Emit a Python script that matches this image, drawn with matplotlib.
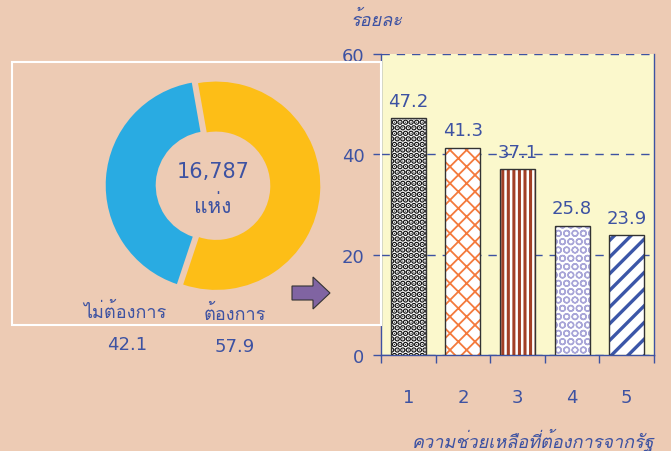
import matplotlib
matplotlib.use('Agg')
import matplotlib.pyplot as plt
from matplotlib import font_manager as fm
from matplotlib.ft2font import FT2Font
from matplotlib.patches import Rectangle, Polygon

# data
donut_labels = ['ไม่ต้องการ', 'ต้องการ']
donut_values = [42.1, 57.9]
donut_colors = ['#29ABE2', '#FDBE17']
donut_total = '16,787'
donut_unit = 'แห่ง'

bar_cats = ['1', '2', '3', '4', '5']
bar_values = [47.2, 41.3, 37.1, 25.8, 23.9]
bar_hatches = ['...', 'xx', '|||', 'OO', '//']
bar_hatch_colors = ['#111111', '#F47A3C', '#A23F26', '#A9A6D8', '#3B56A8']
y_ticks = [0, 20, 40, 60]

ylabel = 'ร้อยละ'
xlabel = 'ความช่วยเหลือที่ต้องการจากรัฐ'

BG = '#EDCBB4'
PLOT_BG = '#FBF8CC'
BLUE = '#3D52A2'


# find a font that has Thai glyphs
def find_thai_font():
    names = []
    for f in fm.fontManager.ttflist:
        try:
            if 0x0E01 in FT2Font(f.fname).get_charmap():
                names.append(f.name)
        except Exception:
            pass
    return names[0] if names else 'DejaVu Sans'


thai = find_thai_font()
fam = [thai, 'DejaVu Sans']
num_fam = ['DejaVu Sans']

fig = plt.figure(figsize=(6.71, 4.52), dpi=100, facecolor=BG)
W, H = 671, 452

# white frame around donut
fig.add_artist(Rectangle((12 / W, 1 - 326 / H), (381 - 12) / W, (326 - 63) / H,
                         transform=fig.transFigure, fill=False, edgecolor='white', lw=1.5))

# donut
ax1 = fig.add_axes([88 / W, 1 - 311.5 / H, 250 / W, 250 / H])
ax1.set_facecolor('none')
ax1.pie(donut_values, colors=donut_colors, startangle=100, counterclock=True,
        explode=[0.03, 0.03], radius=1.0, wedgeprops=dict(width=0.48, linewidth=0))
ax1.set_xlim(-1.2, 1.2)
ax1.set_ylim(-1.2, 1.2)
ax1.axis('off')

fig.text(213 / W, 1 - 172 / H, donut_total, ha='center', va='center', fontsize=15, color=BLUE, family=num_fam)
fig.text(213 / W, 1 - 206 / H, donut_unit, ha='center', va='center', fontsize=15, color=BLUE, family=fam)
fig.text(125 / W, 1 - 312 / H, donut_labels[0], ha='center', va='center', fontsize=13, color=BLUE, family=fam)
fig.text(235 / W, 1 - 314 / H, donut_labels[1], ha='center', va='center', fontsize=13, color=BLUE, family=fam)
fig.text(127 / W, 1 - 345 / H, str(donut_values[0]), ha='center', va='center', fontsize=13, color=BLUE, family=num_fam)
fig.text(235 / W, 1 - 347 / H, str(donut_values[1]), ha='center', va='center', fontsize=13, color=BLUE, family=num_fam)

# arrow
arrow_pts = [(292, 287), (313, 287), (313, 278), (330, 294), (313, 310), (313, 301), (292, 301)]
fig.add_artist(Polygon([(x / W, 1 - y / H) for x, y in arrow_pts], closed=True,
                       transform=fig.transFigure, facecolor='#8064A2', edgecolor='#333333', lw=0.8))

# bar chart
ax2 = fig.add_axes([381 / W, 1 - 356 / H, (654 - 381) / W, (356 - 55) / H])
ax2.set_facecolor(PLOT_BG)
x = range(len(bar_cats))
hatch_lw = {'...': 3.0, 'xx': 1.3, '|||': 2.2, 'OO': 1.0, '//': 2.4}
for i, (v, h, c) in enumerate(zip(bar_values, bar_hatches, bar_hatch_colors)):
    plt.rcParams['hatch.linewidth'] = hatch_lw[h]
    b = ax2.bar(i, v, width=0.64, color='white', edgecolor=c, hatch=h, linewidth=0, zorder=3)
    ax2.bar(i, v, width=0.64, color='none', edgecolor='#333333', linewidth=1.0, zorder=4)
    ax2.annotate(f'{v}', (i, v), xytext=(0, 6), textcoords='offset points', ha='center', va='bottom',
                 fontsize=13, color=BLUE, family=num_fam, zorder=5)

ax2.set_xlim(-0.5, len(bar_cats) - 0.5)
ax2.set_ylim(0, 60)
ax2.set_yticks(y_ticks)
ax2.set_yticklabels([str(t) for t in y_ticks], fontsize=13, color=BLUE, family=num_fam)
ax2.yaxis.grid(True, linestyle=(0, (6, 5)), color=BLUE, lw=1.0, zorder=1)
ax2.set_axisbelow(True)
ax2.tick_params(axis='y', length=6, width=1, color=BLUE, pad=6)

ax2.set_xticks([i + 0.5 for i in range(-1, len(bar_cats))])
ax2.set_xticklabels([])
ax2.set_xticks(list(x), minor=True)
ax2.set_xticklabels(bar_cats, minor=True, fontsize=13, color=BLUE, family=num_fam)
ax2.tick_params(axis='x', which='major', length=6, width=1, color=BLUE)
ax2.tick_params(axis='x', which='minor', length=0, pad=24)

for s in ['left', 'bottom', 'right']:
    ax2.spines[s].set_color(BLUE)
    ax2.spines[s].set_linewidth(1.0)
ax2.spines['top'].set_visible(False)

fig.text(377 / W, 1 - 20 / H, ylabel, ha='center', va='center', fontsize=13, color=BLUE,
         family=fam, style='italic')
fig.text(655 / W, 1 - 440 / H, xlabel, ha='right', va='center', fontsize=13, color=BLUE,
         family=fam, style='italic')

fig.savefig('out.png', dpi=100, facecolor=BG)
